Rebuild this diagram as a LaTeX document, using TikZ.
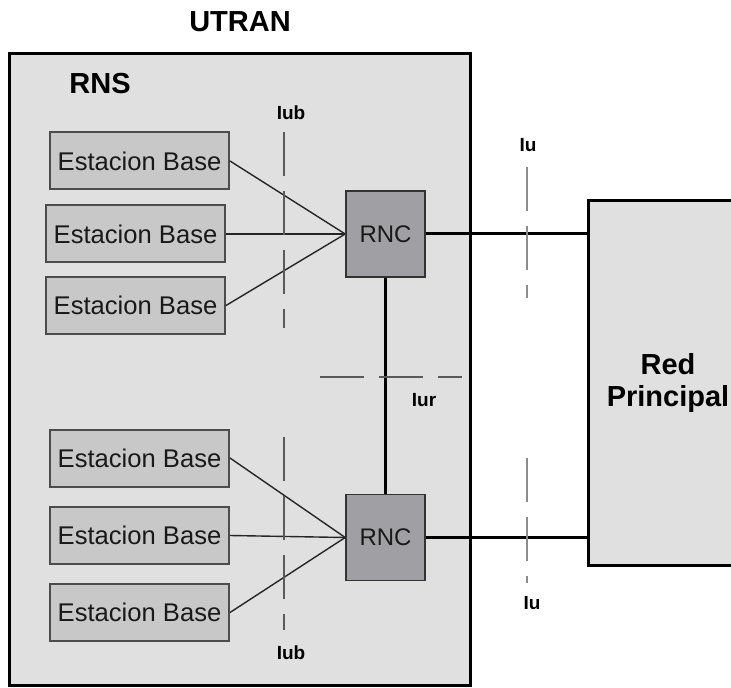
\documentclass[tikz,border=0pt]{standalone}
\usepackage{fontspec}
\setmainfont{Liberation Sans}
\usepackage{tikz}
\usetikzlibrary{positioning}
\usetikzlibrary{calc}

\definecolor{rnsgray}{RGB}{224,224,224}
\definecolor{ebgray}{RGB}{200,200,200}
\definecolor{rncgray}{RGB}{160,160,164}
\definecolor{dashgray}{RGB}{90,90,90}

\begin{document}
\begin{tikzpicture}
  [
    x=0.5pt,y=-0.5pt,
    title/.style={
      font=\fontsize{14.5}{16}\selectfont\bfseries
    },
    iface/.style={
      font=\fontsize{9.5}{11}\selectfont\bfseries
    },
    base/.style={
      draw=black!70,
      line width=1pt,
      fill=ebgray,
      inner sep=0pt,
      minimum width=89.5pt,
      minimum height=28.5pt,
      font=\fontsize{12.8}{14}\selectfont,
      text=black!90
    },
    rnc/.style={
      draw=black!80,
      line width=0.8pt,
      fill=rncgray,
      inner sep=0pt,
      minimum width=39.5pt,
      minimum height=43pt,
      font=\fontsize{12}{14}\selectfont,
      text=black!90
    },
    link/.style={
      line width=0.7pt,
      draw=black!85
    },
    trunk/.style={
      line width=1.5pt
    },
    cut/.style={
      draw=dashgray,
      line width=0.6pt,
      dash pattern=on 22pt off 7.5pt
    }
  ]
    \useasboundingbox (0,0) rectangle (731,688);
    \clip (0,0) rectangle (731,688);
    % UTRAN / RNS
    \draw [fill=rnsgray,line width=1.5pt] (9,54) rectangle (470,685);
    \node [title] (utran) at (240,22) {UTRAN};
    \node [title] (rns) at (100,84) {RNS};
    % core network
    \node [draw,fill=rnsgray,line width=1.5pt,minimum width=80pt,minimum height=182pt,
      align=center,title] (red) at (668,383) {Red\\Principal};
    % base stations
    \node [base] (eb1) at (139.5,161) {Estacion Base};
    \node [base] (eb2) at (135.5,234) {Estacion Base};
    \node [base] (eb3) at (135.5,305.5) {Estacion Base};
    \node [base] (eb4) at (139.5,458) {Estacion Base};
    \node [base] (eb5) at (139.5,535.5) {Estacion Base};
    \node [base] (eb6) at (139.5,612.5) {Estacion Base};
    % controllers
    \node [rnc] (rnc1) at (385.5,234) {RNC};
    \node [rnc] (rnc2) at (385.5,537.5) {RNC};
    % links
    \foreach \e in {eb1,eb2,eb3}
      \draw [link] (\e.east) -- (rnc1.west);
    \foreach \e in {eb4,eb5,eb6}
      \draw [link] (\e.east) -- (rnc2.west);
    \draw [trunk] (rnc1) -- (rnc2);
    \draw [trunk] (rnc1.east) -- (rnc1 -| red.west);
    \draw [trunk] (rnc2.east) -- (rnc2 -| red.west);
    % interfaces
    \draw [cut] (284,132) -- (284,328);
    \node [iface] (iub1) at (291,113) {Iub};
    \draw [cut] (284,437) -- (284,630);
    \node [iface] (iub2) at (291,653) {Iub};
    \draw [cut,draw=black!45] (527,167) -- (527,298);
    \node [iface] (iu1) at (528,145) {Iu};
    \draw [cut,draw=black!45] (527,458) -- (527,583);
    \node [iface] (iu2) at (532,603) {Iu};
    \draw [cut] (320,377) -- (462,377);
    \node [iface] (iur) at (424,400) {Iur};
  \end{tikzpicture}
\end{document}
